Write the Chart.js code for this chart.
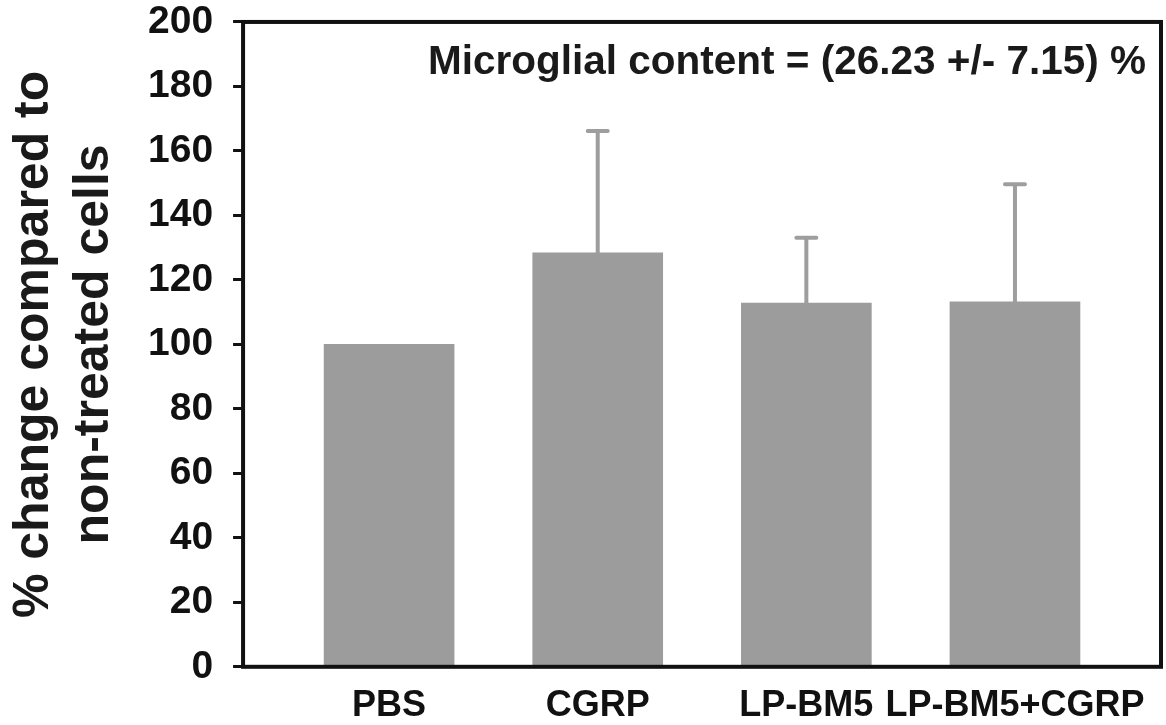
<!DOCTYPE html>
<html>
<head>
<meta charset="utf-8">
<script src="https://cdn.jsdelivr.net/npm/chart.js@4"></script>
<style>
  html, body { margin: 0; padding: 0; background: #fff; }
  #wrap { width: 1166px; height: 725px; position: relative; }
</style>
</head>
<body>
<div id="wrap"><canvas id="grafico"></canvas></div>
<script>
const categories = ["PBS", "CGRP", "LP-BM5", "LP-BM5+CGRP"];
const means = [100, 128.4, 112.8, 113.2];
const errors = [0, 37.8, 20.3, 36.5];
const yMin = 0;
const yMax = 200;
const yStep = 20;
const yTitle = ["% change compared to", "non-treated cells"];
const note = "Microglial content = (26.23 +/- 7.15) %";

const FONT = "'Liberation Sans', Arial, sans-serif";
const barColor = "#9b9c9b";
const errColor = "#9d9e9d";

// upward error bars with caps
const errorBars = {
    id: "errorBars",
    afterDatasetsDraw(chart) {
        const c = chart.ctx;
        const y = chart.scales.y;
        const meta = chart.getDatasetMeta(0);
        c.save();
        c.strokeStyle = errColor;
        c.lineWidth = 4;
        c.lineCap = "round";
        meta.data.forEach((bar, i) => {
            if (!errors[i]) return;
            const top = y.getPixelForValue(means[i] + errors[i]);
            c.beginPath();
            c.moveTo(bar.x, bar.y);
            c.lineTo(bar.x, top);
            c.moveTo(bar.x - 10, top);
            c.lineTo(bar.x + 10, top);
            c.stroke();
        });
        c.restore();
    }
};

// box round the plot + note text
const frame = {
    id: "frame",
    afterDraw(chart) {
        const c = chart.ctx;
        const a = chart.chartArea;
        c.save();
        c.strokeStyle = "#111";
        c.lineWidth = 4;
        c.strokeRect(a.left, a.top, a.right - a.left, a.bottom - a.top);
        c.fillStyle = "#1a1a1a";
        c.font = "bold 40.5px " + FONT;
        c.textAlign = "right";
        c.textBaseline = "alphabetic";
        c.fillText(note, a.right - 15, a.top + 52);
        c.restore();
    }
};

const ctx = document.getElementById("grafico").getContext("2d");
const chart = new Chart(ctx, {
    type: "bar",
    data: {
        datasets: [{
            data: means.map((v, i) => ({ x: i, y: v })),
            backgroundColor: barColor,
            borderWidth: 0,
            barThickness: 130
        }]
    },
    options: {
        responsive: true,
        maintainAspectRatio: false,
        animation: false,
        layout: { padding: { top: 0, right: 5, bottom: -13, left: 0 } },
        plugins: {
            legend: { display: false },
            tooltip: { enabled: false }
        },
        scales: {
            x: {
                type: "linear",
                min: -0.7,
                max: 3.7,
                offset: false,
                afterBuildTicks: axis => {
                    axis.ticks = categories.map((c, i) => ({ value: i }));
                },
                grid: { display: false },
                border: { display: false },
                ticks: {
                    callback: v => categories[v],
                    autoSkip: false,
                    maxRotation: 0,
                    padding: 10,
                    color: "#111",
                    font: { family: FONT, size: 36, weight: "bold" }
                }
            },
            y: {
                min: yMin,
                max: yMax,
                ticks: {
                    stepSize: yStep,
                    padding: 20,
                    color: "#111",
                    font: { family: FONT, size: 39, weight: "bold", lineHeight: 0.1 }
                },
                grid: {
                    drawOnChartArea: false,
                    drawTicks: true,
                    tickLength: 10,
                    color: "#111",
                    lineWidth: 3
                },
                border: { display: false },
                title: {
                    display: true,
                    text: yTitle,
                    color: "#1a1a1a",
                    padding: { top: 4, bottom: 4 },
                    font: { family: FONT, size: 50, weight: "bold", lineHeight: 1.2 }
                }
            }
        }
    },
    plugins: [errorBars, frame]
});
</script>
</body>
</html>
